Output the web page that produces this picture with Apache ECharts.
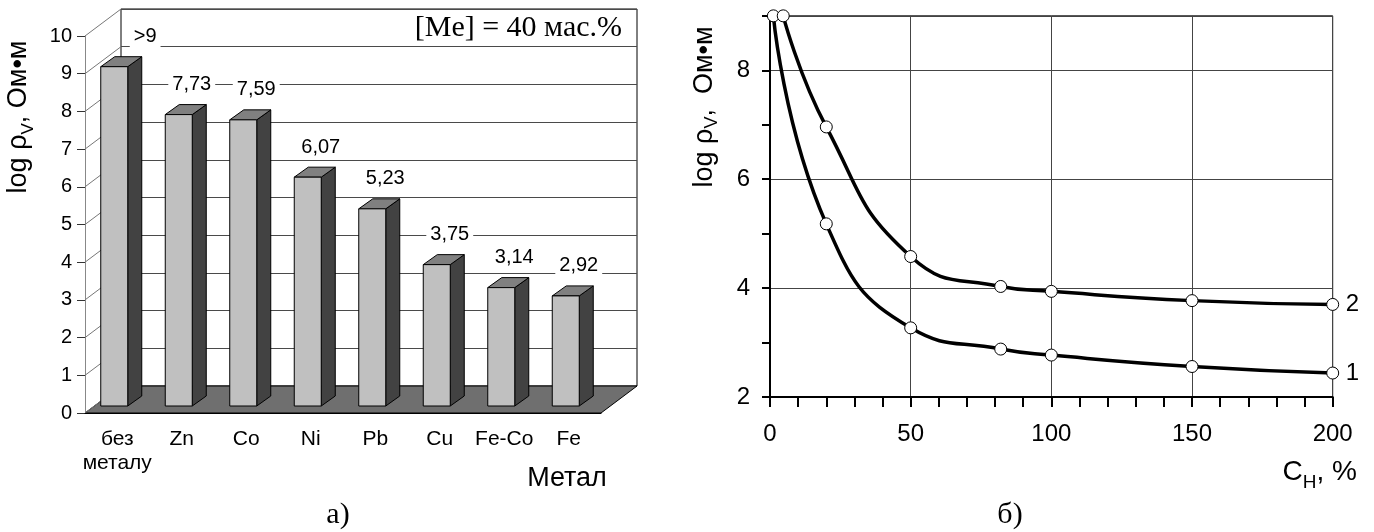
<!DOCTYPE html>
<html><head><meta charset="utf-8">
<script src="https://cdn.jsdelivr.net/npm/echarts/dist/echarts.min.js"></script>
<style>html,body{margin:0;padding:0;background:#fff}#c{width:1374px;height:532px}</style>
</head><body><div id="c"></div>
<script>
// ---- data (left chart) ----
const categories = ['без\nметалу', 'Zn', 'Co', 'Ni', 'Pb', 'Cu', 'Fe-Co', 'Fe'];
const barValues = [9.0, 7.73, 7.59, 6.07, 5.23, 3.75, 3.14, 2.92];
const barLabels = ['>9', '7,73', '7,59', '6,07', '5,23', '3,75', '3,14', '2,92'];
const leftYTicks = [0, 1, 2, 3, 4, 5, 6, 7, 8, 9, 10];
// ---- data (right chart) ----
const curve1X = [1.2, 20, 50, 82, 100, 150, 200];
const curve1Y = [9, 5.18, 3.27, 2.88, 2.77, 2.56, 2.44];
const curve2X = [4.7, 20, 50, 82, 100, 150, 200];
const curve2Y = [9, 6.96, 4.58, 4.03, 3.94, 3.77, 3.70];
const curveNames = ['1', '2'];
const rightYLabels = [2, 4, 6, 8];

const FONT = "'Liberation Sans', Arial, sans-serif";
const SERIF = "'Liberation Serif', 'Times New Roman', serif";
const DX = 36, DY = -27;        // wall depth offset
const BDX = 14, BDY = -10;      // bar depth offset
const BAR_W = 27, BAR_SHIFT = -3, BAR_LIFT = 7;

const chart = echarts.init(document.getElementById('c'));

function floorItem(params, api) {
  const cs = params.coordSys;
  const y0 = api.coord([0, 0])[1];
  const x0 = cs.x, x1 = cs.x + cs.width;
  return {type: 'polygon', shape: {points: [[x0, y0], [x1, y0], [x1 + DX, y0 + DY], [x0 + DX, y0 + DY]]},
    style: {fill: '#6f6f6f', stroke: '#000', lineWidth: 1}};
}
function diagItem(params, api) {
  const cs = params.coordSys;
  const y = api.coord([0, api.value(1)])[1];
  return {type: 'line', shape: {x1: cs.x, y1: y, x2: cs.x + DX, y2: y + DY},
    style: {stroke: '#777', lineWidth: 1}};
}
function barItem(params, api) {
  const i = api.value(0), v = api.value(1);
  const c0 = api.coord([i, 0]), c1 = api.coord([i, v]);
  const fx = c0[0] + BAR_SHIFT - BAR_W / 2;
  const base = c0[1] - BAR_LIFT, top = c1[1] - BAR_LIFT;
  const rx = fx + BAR_W;
  const lab = barLabels[i];
  const over = lab.charAt(0) === '>';
  return {type: 'group', children: [
    {type: 'polygon', shape: {points: [[rx, top], [rx + BDX, top + BDY], [rx + BDX, base + BDY], [rx, base]]},
      style: {fill: '#424242', stroke: '#000', lineWidth: 1}},
    {type: 'polygon', shape: {points: [[fx, top], [fx + BDX, top + BDY], [rx + BDX, top + BDY], [rx, top]]},
      style: {fill: '#808080', stroke: '#000', lineWidth: 1}},
    {type: 'rect', shape: {x: fx, y: top, width: BAR_W, height: base - top},
      style: {fill: '#c0c0c0', stroke: '#000', lineWidth: 1}},
    {type: 'text', z2: 10, style: {text: lab, x: over ? rx + 2 : fx + BAR_W / 2 + 13, y: top - 30,
      align: over ? 'left' : 'center', verticalAlign: 'middle', fontSize: 20, fontFamily: FONT, fill: '#000',
      backgroundColor: '#fff', padding: [1, 4]}}
  ]};
}

const option = {
  animation: false,
  backgroundColor: '#fff',
  grid: [
    {left: 85, top: 36, width: 516, height: 377},
    {left: 85 + DX, top: 36 + DY, width: 516, height: 377, show: true, backgroundColor: '#fff', borderColor: '#000', borderWidth: 1},
    {left: 770, top: 15.85, width: 562.7, height: 381.15, show: true, backgroundColor: 'transparent', borderColor: '#000', borderWidth: 1}
  ],
  xAxis: [
    {gridIndex: 0, type: 'category', data: categories,
      axisLine: {lineStyle: {color: '#000'}}, axisTick: {length: 8, lineStyle: {color: '#000'}},
      axisLabel: {interval: 0, color: '#000', fontFamily: FONT, fontSize: 21, lineHeight: 24, margin: 14}, z: 5},
    {gridIndex: 1, type: 'value', show: false, min: 0, max: 1},
    {gridIndex: 2, type: 'value', min: 0, max: 200, interval: 50,
      axisLine: {lineStyle: {color: '#000', width: 2}},
      axisTick: {length: 10, lineStyle: {color: '#000', width: 2}},
      minorTick: {show: true, splitNumber: 5, length: 10, lineStyle: {color: '#000', width: 2}},
      splitLine: {show: true, lineStyle: {color: '#444'}},
      axisLabel: {color: '#000', fontFamily: FONT, fontSize: 24, margin: 25}}
  ],
  yAxis: [
    {gridIndex: 0, type: 'value', min: 0, max: 10, interval: 1,
      axisLine: {show: true, lineStyle: {color: '#888'}}, axisTick: {show: true, length: 8, lineStyle: {color: '#333'}},
      splitLine: {show: false}, axisLabel: {color: '#000', fontFamily: FONT, fontSize: 20, margin: 13}},
    {gridIndex: 1, type: 'value', min: 0, max: 10, interval: 1, axisLine: {show: false}, axisTick: {show: false},
      axisLabel: {show: false}, splitLine: {show: true, lineStyle: {color: '#4a4a4a'}}},
    {gridIndex: 2, type: 'value', min: 2, max: 9, interval: 1,
      axisLine: {lineStyle: {color: '#000', width: 2}}, axisTick: {length: 8, lineStyle: {color: '#000', width: 2}},
      splitLine: {show: false},
      axisLabel: {color: '#000', fontFamily: FONT, fontSize: 24, margin: 20,
        formatter: v => rightYLabels.indexOf(v) >= 0 ? String(v) : ''}},
    {gridIndex: 2, type: 'value', min: 2, max: 9, interval: 2, axisLine: {show: false}, axisTick: {show: false},
      axisLabel: {show: false}, splitLine: {show: true, lineStyle: {color: '#444'}}}
  ],
  series: [
    {type: 'custom', xAxisIndex: 0, yAxisIndex: 0, data: [[0, 0]], renderItem: floorItem, z: 1, silent: true},
    {type: 'custom', xAxisIndex: 0, yAxisIndex: 0, data: leftYTicks.map(v => [0, v]), renderItem: diagItem, z: 1, silent: true},
    {type: 'custom', xAxisIndex: 0, yAxisIndex: 0, data: barValues.map((v, i) => [i, v]), renderItem: barItem, z: 3, silent: true},
    {type: 'line', name: curveNames[0], xAxisIndex: 2, yAxisIndex: 2, data: curve1X.map((x, i) => [x, curve1Y[i]]),
      smooth: 0.5, clip: false, symbol: 'circle', symbolSize: 12,
      lineStyle: {color: '#000', width: 3.5}, itemStyle: {color: '#fff', borderColor: '#000', borderWidth: 1},
      endLabel: {show: true, formatter: '{a}', distance: 13, color: '#000', fontFamily: FONT, fontSize: 24}, z: 4},
    {type: 'line', name: curveNames[1], xAxisIndex: 2, yAxisIndex: 2, data: curve2X.map((x, i) => [x, curve2Y[i]]),
      smooth: 0.5, clip: false, symbol: 'circle', symbolSize: 12,
      lineStyle: {color: '#000', width: 3.5}, itemStyle: {color: '#fff', borderColor: '#000', borderWidth: 1},
      endLabel: {show: true, formatter: '{a}', distance: 13, color: '#000', fontFamily: FONT, fontSize: 24}, z: 4}
  ],
  graphic: [
    {type: 'text', x: 19, y: 117, rotation: Math.PI / 2, z: 10,
      style: {text: 'log ρ{s|V}, Ом•м', align: 'center', verticalAlign: 'middle', fontSize: 27, fontFamily: FONT, fill: '#000',
        rich: {s: {fontSize: 17, fontFamily: FONT, lineHeight: 36, verticalAlign: 'bottom'}}}},
    {type: 'text', x: 705, y: 107, rotation: Math.PI / 2, z: 10,
      style: {text: 'log ρ{s|V},  Ом•м', align: 'center', verticalAlign: 'middle', fontSize: 27, fontFamily: FONT, fill: '#000',
        rich: {s: {fontSize: 18, fontFamily: FONT, lineHeight: 32, verticalAlign: 'bottom'}}}},
    {type: 'text', x: 622, y: 28, z: 10,
      style: {text: '[Me] = 40 мас.%', align: 'right', verticalAlign: 'middle', fontSize: 30, fontFamily: SERIF, fill: '#000'}},
    {type: 'text', x: 567, y: 479, z: 10,
      style: {text: 'Метал', align: 'center', verticalAlign: 'middle', fontSize: 27, fontFamily: FONT, fill: '#000'}},
    {type: 'text', x: 1357, y: 472, z: 10,
      style: {text: 'C{s|Н}, %', align: 'right', verticalAlign: 'middle', fontSize: 28, fontFamily: FONT, fill: '#000',
        rich: {s: {fontSize: 19, fontFamily: FONT, lineHeight: 40, verticalAlign: 'bottom'}}}},
    {type: 'text', x: 338, y: 515, z: 10,
      style: {text: 'а)', align: 'center', verticalAlign: 'middle', fontSize: 30, fontFamily: SERIF, fill: '#000'}},
    {type: 'text', x: 1010, y: 515, z: 10,
      style: {text: 'б)', align: 'center', verticalAlign: 'middle', fontSize: 30, fontFamily: SERIF, fill: '#000'}}
  ]
};
chart.setOption(option);
</script>
</body></html>
